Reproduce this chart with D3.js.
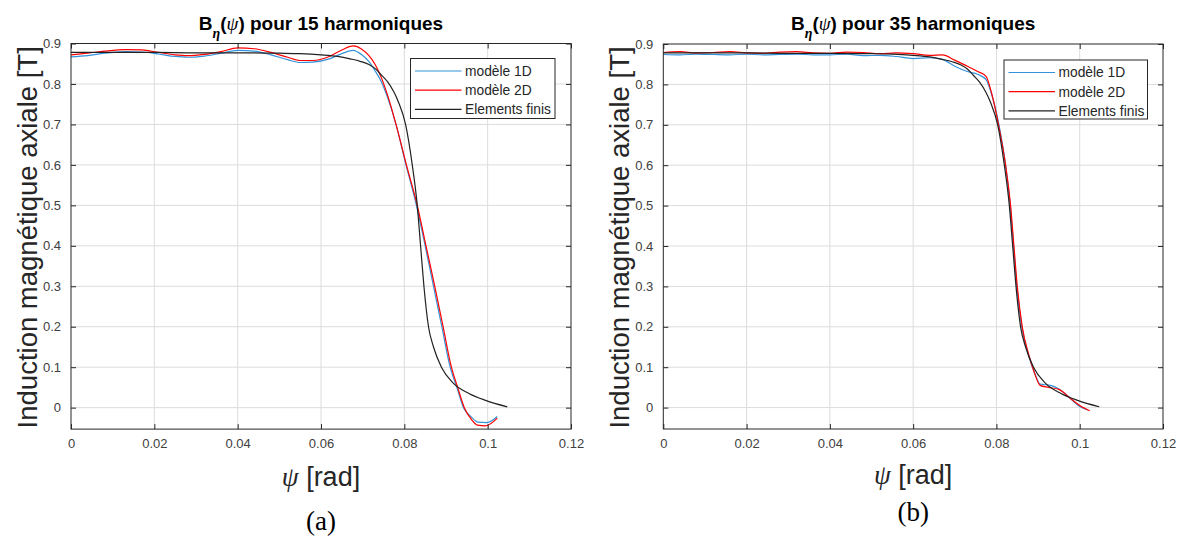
<!DOCTYPE html>
<html><head><meta charset="utf-8">
<script src="https://cdn.jsdelivr.net/npm/d3@7"></script>
<style>body{margin:0;background:#fff} svg{display:block}</style>
</head><body><svg id="c" width="1185" height="536"></svg>
<script>
// ---------- data ----------
const xTicks = [0, 0.02, 0.04, 0.06, 0.08, 0.1, 0.12];
const xTickLabels = ["0", "0.02", "0.04", "0.06", "0.08", "0.1", "0.12"];
const yTicks = [0, 0.1, 0.2, 0.3, 0.4, 0.5, 0.6, 0.7, 0.8, 0.9];
const yTickLabels = ["0", "0.1", "0.2", "0.3", "0.4", "0.5", "0.6", "0.7", "0.8", "0.9"];
const seriesNames = ["modèle 1D", "modèle 2D", "Elements finis"];
const panelTitles = ["pour 15 harmoniques", "pour 35 harmoniques"];
const panelLetters = ["(a)", "(b)"];

// 15 harmonics
const psi15_1D = [0,0.004,0.008,0.013,0.017,0.021,0.025,0.028,0.032,0.036,0.040,0.044,0.048,0.052,0.055,0.058,0.062,0.065,0.0677,0.0698,0.0715,0.073,0.0745,0.0762,0.078,0.0804,0.0829,0.085,0.087,0.089,0.091,0.0926,0.0942,0.096,0.0977,0.0998,0.1023];
const b15_1D   = [0.867,0.870,0.876,0.880,0.879,0.874,0.868,0.866,0.869,0.876,0.883,0.881,0.872,0.860,0.853,0.854,0.862,0.875,0.883,0.872,0.855,0.832,0.805,0.760,0.700,0.600,0.500,0.400,0.300,0.200,0.100,0.050,0.000,-0.022,-0.036,-0.037,-0.022];
const psi15_2D = [0,0.004,0.008,0.013,0.017,0.021,0.025,0.028,0.032,0.036,0.040,0.044,0.048,0.052,0.055,0.058,0.062,0.065,0.0677,0.0698,0.0715,0.073,0.0745,0.0762,0.078,0.0805,0.0831,0.0852,0.0873,0.0893,0.0913,0.0928,0.0944,0.096,0.0975,0.0995,0.1023];
const b15_2D   = [0.872,0.876,0.881,0.885,0.884,0.878,0.872,0.870,0.873,0.880,0.889,0.887,0.878,0.866,0.858,0.858,0.868,0.884,0.894,0.886,0.870,0.848,0.815,0.765,0.700,0.600,0.500,0.400,0.300,0.200,0.100,0.050,0.000,-0.028,-0.043,-0.045,-0.026];

// 35 harmonics
const psi35_1D = [0,0.004,0.008,0.012,0.016,0.020,0.024,0.028,0.032,0.036,0.040,0.044,0.048,0.052,0.056,0.060,0.064,0.067,0.070,0.073,0.0755,0.0775,0.079,0.0806,0.0822,0.0833,0.0841,0.0849,0.0861,0.0877,0.0892,0.0905,0.093,0.0952,0.0975,0.100,0.102];
const b35_1D   = [0.874,0.873,0.875,0.874,0.873,0.875,0.873,0.874,0.875,0.873,0.873,0.875,0.871,0.872,0.869,0.864,0.866,0.862,0.845,0.832,0.825,0.812,0.770,0.700,0.600,0.500,0.400,0.300,0.200,0.130,0.085,0.058,0.055,0.045,0.025,0.003,-0.006];
const psi35_2D = [0,0.004,0.008,0.012,0.016,0.020,0.024,0.028,0.032,0.036,0.040,0.044,0.048,0.052,0.056,0.060,0.064,0.067,0.070,0.073,0.0755,0.0775,0.0788,0.0805,0.0822,0.0834,0.0842,0.0850,0.0862,0.0878,0.0890,0.0905,0.0925,0.0950,0.0975,0.100,0.1024];
const b35_2D   = [0.879,0.881,0.878,0.879,0.881,0.878,0.877,0.880,0.881,0.878,0.877,0.880,0.879,0.876,0.878,0.876,0.872,0.873,0.860,0.845,0.832,0.820,0.780,0.700,0.600,0.500,0.400,0.300,0.200,0.130,0.090,0.055,0.050,0.045,0.025,0.005,-0.008];

// finite elements (same reference in both panels)
const psiFEM = [0,0.01,0.02,0.03,0.04,0.05,0.055,0.06,0.064,0.067,0.0694,0.0715,0.073,0.0745,0.076,0.0775,0.0786,0.0803,0.0819,0.0831,0.0839,0.0847,0.0858,0.0870,0.0889,0.0918,0.0955,0.0995,0.1047];
const bFEM   = [0.878,0.878,0.878,0.877,0.877,0.876,0.875,0.872,0.868,0.862,0.856,0.848,0.838,0.822,0.805,0.780,0.755,0.700,0.600,0.500,0.400,0.300,0.200,0.150,0.100,0.060,0.035,0.018,0.002];

// ---------- styles ----------
const colors = ["#3393da", "#ff0000", "#222222"];
const SANS = "'Liberation Sans', Arial, Helvetica, sans-serif";
const SERIF = "'Liberation Serif', 'Times New Roman', serif";

const panels = [
  {x0: 71, x1: 571, yTop: 43.5, yBot: 429.1, series: [[psi15_1D,b15_1D],[psi15_2D,b15_2D],[psiFEM,bFEM]],
   legend: {x: 410.5, y: 58.5, w: 144.5, h: 60}, ylabX: 27, letterY: 530, xlabY: 486},
  {x0: 663.3, x1: 1163, yTop: 44, yBot: 429, series: [[psi35_1D,b35_1D],[psi35_2D,b35_2D],[psiFEM,bFEM]],
   legend: {x: 1004, y: 60, w: 143.5, h: 59}, ylabX: 619, letterY: 521, xlabY: 484}
];

const svg = d3.select("#c");
const txtCol = "#262626";

panels.forEach((p, i) => {
  const x = d3.scaleLinear().domain([0, 0.12]).range([p.x0, p.x1]);
  const y = d3.scaleLinear().domain([-0.053, 0.9]).range([p.yBot, p.yTop]);
  const g = svg.append("g");

  // grid
  g.selectAll(".gx").data(xTicks.slice(1, -1)).join("line")
    .attr("x1", d => x(d)).attr("x2", d => x(d)).attr("y1", p.yTop).attr("y2", p.yBot)
    .attr("stroke", "#dcdcdc").attr("stroke-width", 1);
  g.selectAll(".gy").data(yTicks.slice(0, -1)).join("line")
    .attr("x1", p.x0).attr("x2", p.x1).attr("y1", d => y(d)).attr("y2", d => y(d))
    .attr("stroke", "#dcdcdc").attr("stroke-width", 1);

  // data lines
  const line = d3.line().x(d => x(d[0])).y(d => y(d[1])).curve(d3.curveMonotoneX);
  p.series.forEach((s, k) => {
    const pts = s[0].map((v, j) => [v, s[1][j]]);
    g.append("path").attr("d", line(pts)).attr("fill", "none")
      .attr("stroke", colors[k]).attr("stroke-width", 1.2).attr("stroke-linejoin", "round");
  });

  // axes (bottom/left with labels, top/right mirrored ticks)
  const tl = 5;
  const axB = d3.axisBottom(x).tickValues(xTicks).tickFormat((d, j) => xTickLabels[j]).tickSizeInner(-tl).tickSizeOuter(0).tickPadding(10);
  const axT = d3.axisTop(x).tickValues(xTicks).tickFormat("").tickSizeInner(-tl).tickSizeOuter(0);
  const axL = d3.axisLeft(y).tickValues(yTicks).tickFormat((d, j) => yTickLabels[j]).tickSizeInner(-tl).tickSizeOuter(0).tickPadding(10);
  const axR = d3.axisRight(y).tickValues(yTicks).tickFormat("").tickSizeInner(-tl).tickSizeOuter(0);
  const styleAx = sel => {
    sel.select(".domain").remove();
    sel.selectAll(".tick line").attr("stroke", txtCol);
    sel.selectAll(".tick text").attr("fill", "#404040").style("font-family", SANS).style("font-size", "13px");
  };
  g.append("g").attr("transform", `translate(0,${p.yBot})`).call(axB).call(styleAx);
  g.append("g").attr("transform", `translate(0,${p.yTop})`).call(axT).call(styleAx);
  g.append("g").attr("transform", `translate(${p.x0},0)`).call(axL).call(styleAx);
  g.append("g").attr("transform", `translate(${p.x1},0)`).call(axR).call(styleAx);
  g.append("rect").attr("x", p.x0).attr("y", p.yTop).attr("width", p.x1 - p.x0).attr("height", p.yBot - p.yTop)
    .attr("fill", "none").attr("stroke", txtCol).attr("stroke-width", 1);

  // title
  const cx = (p.x0 + p.x1) / 2;
  const t = g.append("text").attr("x", cx).attr("y", 30).attr("text-anchor", "middle")
    .attr("fill", "#000").style("font-family", SANS).style("font-weight", "bold").style("font-size", "19px");
  t.append("tspan").text("B");
  t.append("tspan").attr("dy", 8).style("font-family", SERIF).style("font-style", "italic").style("font-size", "14px").text("η");
  t.append("tspan").attr("dy", -8).text("(");
  t.append("tspan").style("font-family", SERIF).style("font-style", "italic").style("font-weight", "normal").text("ψ");
  t.append("tspan").text(") " + panelTitles[i]);

  // y label
  g.append("text").attr("transform", `translate(${p.ylabX + 9.5},${(p.yTop + p.yBot) / 2 + 1}) rotate(-90)`)
    .attr("text-anchor", "middle").attr("fill", txtCol).style("font-family", SANS).style("font-size", "27.5px")
    .text("Induction magnétique axiale [T]");

  // x label
  const xl = g.append("text").attr("x", cx).attr("y", p.xlabY).attr("text-anchor", "middle")
    .attr("fill", txtCol).style("font-size", "27px");
  xl.append("tspan").style("font-family", SERIF).style("font-style", "italic").text("ψ");
  xl.append("tspan").style("font-family", SANS).text(" [rad]");

  // panel letter
  g.append("text").attr("x", cx).attr("y", p.letterY).attr("text-anchor", "middle")
    .attr("fill", "#000").style("font-family", SERIF).style("font-size", "27px").text(panelLetters[i]);

  // legend
  const L = p.legend;
  const lg = g.append("g");
  lg.append("rect").attr("x", L.x).attr("y", L.y).attr("width", L.w).attr("height", L.h)
    .attr("fill", "#fff").attr("stroke", txtCol).attr("stroke-width", 1);
  seriesNames.forEach((nm, k) => {
    const ry = L.y + 12.5 + k * 19.2;
    lg.append("line").attr("x1", L.x + 4.5).attr("x2", L.x + 51).attr("y1", ry).attr("y2", ry)
      .attr("stroke", colors[k]).attr("stroke-width", 1.2);
    lg.append("text").attr("x", L.x + 54.5).attr("y", ry + 4.8).attr("fill", txtCol)
      .style("font-family", SANS).style("font-size", "13.8px").text(nm);
  });
});
</script></body></html>
